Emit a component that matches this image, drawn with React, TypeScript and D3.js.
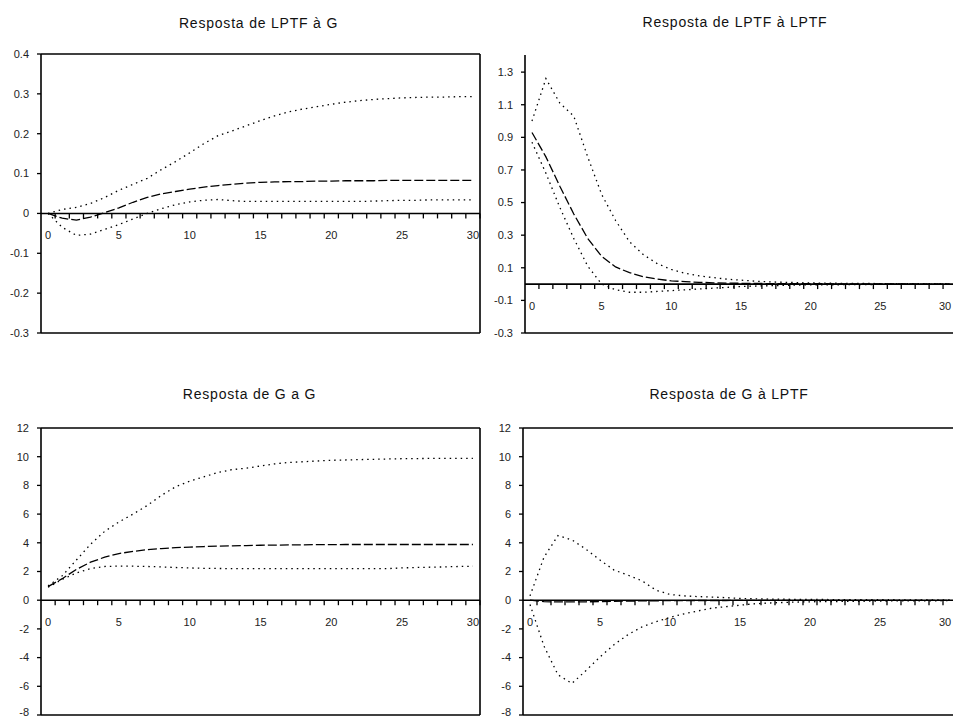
import React from "react";
import * as d3 from "d3";

// periods after the shock (category axis)
const periods = [0, 1, 2, 3, 4, 5, 6, 7, 8, 9, 10, 11, 12, 13, 14, 15, 16, 17, 18, 19, 20, 21, 22, 23, 24, 25, 26, 27, 28, 29, 30];
const periodLabels = [0, 5, 10, 15, 20, 25, 30];

// Resposta de LPTF à G
const lptfGMid = [0, -0.012, -0.017, -0.009, 0.002, 0.014, 0.028, 0.04, 0.049, 0.055, 0.061, 0.066, 0.07, 0.073, 0.076, 0.078, 0.079, 0.08, 0.08, 0.081, 0.081, 0.082, 0.082, 0.082, 0.083, 0.083, 0.083, 0.083, 0.083, 0.083, 0.083];
const lptfGUp = [0, 0.01, 0.015, 0.025, 0.04, 0.058, 0.073, 0.088, 0.11, 0.13, 0.152, 0.175, 0.195, 0.207, 0.22, 0.233, 0.245, 0.255, 0.262, 0.268, 0.274, 0.279, 0.283, 0.286, 0.288, 0.29, 0.291, 0.292, 0.292, 0.293, 0.293];
const lptfGLow = [0, -0.035, -0.055, -0.052, -0.04, -0.028, -0.014, 0, 0.012, 0.022, 0.029, 0.033, 0.035, 0.032, 0.03, 0.03, 0.03, 0.03, 0.03, 0.03, 0.03, 0.03, 0.03, 0.031, 0.032, 0.033, 0.033, 0.034, 0.034, 0.034, 0.034];

// Resposta de LPTF à LPTF
const lptfLptfMid = [0.93, 0.78, 0.6, 0.43, 0.28, 0.17, 0.105, 0.07, 0.045, 0.03, 0.02, 0.015, 0.011, 0.008, 0.006, 0.005, 0.004, 0.003, 0.003, 0.002, 0.002, 0.002, 0.001, 0.001, 0.001, 0.001, 0.001, 0.001, 0, 0, 0];
const lptfLptfUp = [1.0, 1.26, 1.11, 1.03, 0.78, 0.55, 0.39, 0.26, 0.18, 0.125, 0.09, 0.066, 0.05, 0.04, 0.03, 0.024, 0.018, 0.014, 0.011, 0.009, 0.007, 0.006, 0.005, 0.004, 0.004, 0.003, 0.003, 0.002, 0.002, 0.002, 0.002];
const lptfLptfLow = [0.87, 0.68, 0.47, 0.28, 0.11, 0, -0.035, -0.05, -0.05, -0.045, -0.04, -0.035, -0.03, -0.025, -0.02, -0.015, -0.012, -0.01, -0.008, -0.006, -0.005, -0.004, -0.004, -0.003, -0.003, -0.002, -0.002, -0.002, -0.001, -0.001, -0.001];

// Resposta de G a G
const gGMid = [0.95, 1.5, 2.15, 2.65, 3.0, 3.25, 3.4, 3.52, 3.6, 3.66, 3.7, 3.74, 3.77, 3.79, 3.81, 3.83, 3.84, 3.85, 3.86, 3.87, 3.87, 3.88, 3.88, 3.88, 3.88, 3.88, 3.88, 3.88, 3.88, 3.88, 3.88];
const gGUp = [1.0, 1.7, 2.8, 3.9, 4.8, 5.45, 6.0, 6.6, 7.3, 7.9, 8.3, 8.6, 8.9, 9.1, 9.2, 9.35, 9.5, 9.6, 9.65, 9.7, 9.75, 9.77, 9.8, 9.82, 9.84, 9.86, 9.87, 9.88, 9.88, 9.89, 9.89];
const gGLow = [0.9, 1.45, 1.9, 2.2, 2.35, 2.38, 2.37, 2.35, 2.32, 2.28, 2.25, 2.22, 2.21, 2.2, 2.2, 2.2, 2.2, 2.2, 2.2, 2.2, 2.2, 2.2, 2.2, 2.2, 2.2, 2.25, 2.28, 2.3, 2.32, 2.35, 2.37];

// Resposta de G à LPTF
const gLptfMid = [0, -0.1, -0.12, -0.12, -0.11, -0.1, -0.08, -0.06, -0.05, -0.04, -0.03, -0.03, -0.02, -0.02, -0.02, -0.01, -0.01, -0.01, -0.01, -0.01, -0.01, -0.01, -0.01, -0.01, -0.01, -0.01, -0.01, -0.01, -0.01, -0.01, -0.01];
const gLptfUp = [0.3, 3.0, 4.5, 4.2, 3.55, 2.8, 2.1, 1.75, 1.35, 0.7, 0.4, 0.3, 0.25, 0.22, 0.18, 0.12, 0.1, 0.08, 0.07, 0.06, 0.05, 0.05, 0.04, 0.04, 0.03, 0.03, 0.03, 0.02, 0.02, 0.02, 0.02];
const gLptfLow = [-0.3, -3.2, -5.2, -5.8, -4.9, -3.95, -3.1, -2.4, -1.86, -1.5, -1.2, -0.95, -0.75, -0.55, -0.45, -0.35, -0.25, -0.2, -0.16, -0.13, -0.11, -0.1, -0.09, -0.08, -0.07, -0.06, -0.05, -0.05, -0.04, -0.04, -0.03];

const ticksSmall = [0.4, 0.3, 0.2, 0.1, 0, -0.1, -0.2, -0.3];
const ticksLptf = [1.3, 1.1, 0.9, 0.7, 0.5, 0.3, 0.1, -0.1, -0.3];
const ticksG = [12, 10, 8, 6, 4, 2, 0, -2, -4, -6, -8];

const FONT = "'Liberation Sans', Arial, sans-serif";
const W = 953;
const H = 719;

const Panel = ({ title, mid, up, low, box, domain, ticks, labelX, topBorder = true }) => {
  const x = d3.scaleBand().domain(periods).range([box.left, box.right]).paddingInner(0).paddingOuter(0);
  const y = d3.scaleLinear().domain(domain).range([box.bottom, box.top]);
  const cx = (k) => x(k) + x.bandwidth() / 2;

  const line = d3.line().x((d, i) => cx(periods[i])).y(d => y(d));
  const y0 = y(0);

  return (
    <g>
      <text x={(box.left + Math.min(box.right, W)) / 2 + (box.titleShift || 0)} y={box.titleY} textAnchor="middle"
        style={{ fontFamily: FONT, fontSize: "14px", letterSpacing: "0.8px" }} fill="#111">{title}</text>

      {/* frame */}
      <line x1={box.left} x2={box.left} y1={box.top} y2={box.bottom} stroke="#000" strokeWidth={1.6} />
      <line x1={box.left} x2={box.right} y1={box.bottom} y2={box.bottom} stroke="#000" strokeWidth={1.6} />
      <line x1={box.right} x2={box.right} y1={box.top} y2={box.bottom} stroke="#000" strokeWidth={1.6} />
      {topBorder && <line x1={box.left} x2={box.right} y1={box.top} y2={box.top} stroke="#000" strokeWidth={1.6} />}

      {/* y axis ticks */}
      {ticks.map(t => (
        <g key={t}>
          <line x1={box.left - 4} x2={box.left} y1={y(t)} y2={y(t)} stroke="#000" strokeWidth={1.3} />
          <text x={labelX} y={Math.min(y(t), H - 7)} dy="0.35em" textAnchor="end"
            style={{ fontFamily: FONT, fontSize: "11px" }} fill="#222">{String(t)}</text>
        </g>
      ))}

      {/* zero line with category ticks */}
      <line x1={box.left} x2={box.right} y1={y0} y2={y0} stroke="#000" strokeWidth={1.6} />
      {periods.slice(1).map(k => (
        <line key={k} x1={x(k)} x2={x(k)} y1={y0} y2={y0 + 5} stroke="#000" strokeWidth={1.3} />
      ))}
      <line x1={box.right} x2={box.right} y1={y0} y2={y0 + 5} stroke="#000" strokeWidth={1.3} />
      {periodLabels.map(k => (
        <text key={k} x={Math.min(cx(k), W - 8)} y={y0 + 22} dy="0.35em" textAnchor="middle"
          style={{ fontFamily: FONT, fontSize: "11px" }} fill="#222">{k}</text>
      ))}

      {/* response and bands */}
      <path d={line(up)} fill="none" stroke="#000" strokeWidth={1.3} strokeDasharray="1.5 4" />
      <path d={line(low)} fill="none" stroke="#000" strokeWidth={1.3} strokeDasharray="1.5 4" />
      <path d={line(mid)} fill="none" stroke="#000" strokeWidth={1.3} strokeDasharray="9 3" />
    </g>
  );
};

export default function App() {
  return (
    <svg width={W} height={H} style={{ position: "absolute", left: 0, top: 0, background: "#fff" }}>
      <rect width={W} height={H} fill="#fff" />
      <Panel title="Resposta de LPTF à G" mid={lptfGMid} up={lptfGUp} low={lptfGLow}
        box={{ left: 41, right: 480, top: 54, bottom: 333, titleY: 28, titleShift: -2 }}
        domain={[-0.3, 0.4]} ticks={ticksSmall} labelX={29} />
      <Panel title="Resposta de LPTF à LPTF" mid={lptfLptfMid} up={lptfLptfUp} low={lptfLptfLow}
        box={{ left: 525, right: 957, top: 55, bottom: 333, titleY: 27, titleShift: -4 }}
        domain={[-0.3, 1.405]} ticks={ticksLptf} labelX={513} topBorder={false} />
      <Panel title="Resposta de G a G" mid={gGMid} up={gGUp} low={gGLow}
        box={{ left: 41, right: 480, top: 428, bottom: 715, titleY: 399, titleShift: -11 }}
        domain={[-8, 12]} ticks={ticksG} labelX={29} />
      <Panel title="Resposta de G à LPTF" mid={gLptfMid} up={gLptfUp} low={gLptfLow}
        box={{ left: 523, right: 957, top: 428, bottom: 715, titleY: 399, titleShift: -9 }}
        domain={[-8, 12]} ticks={ticksG} labelX={511} />
    </svg>
  );
}
